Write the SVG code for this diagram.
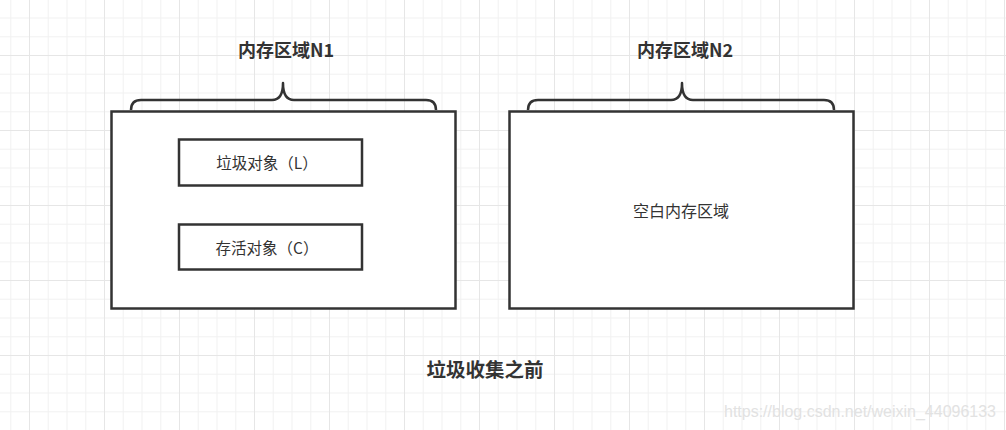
<svg xmlns="http://www.w3.org/2000/svg" width="1006" height="430" viewBox="0 0 1006 430">
  <defs>
    <pattern id="grid" patternUnits="userSpaceOnUse" x="29" y="55" width="75" height="75">
      <rect x="0" y="0" width="75" height="75" fill="#ffffff"/>
      <g fill="#f2f2f2">
        <rect x="18.75" y="0" width="1" height="75"/>
        <rect x="37.5" y="0" width="1" height="75"/>
        <rect x="56.25" y="0" width="1" height="75"/>
        <rect x="0" y="18.75" width="75" height="1"/>
        <rect x="0" y="37.5" width="75" height="1"/>
        <rect x="0" y="56.25" width="75" height="1"/>
      </g>
      <g fill="#e6e6e6">
        <rect x="0" y="0" width="1" height="75"/>
        <rect x="0" y="0" width="75" height="1"/>
      </g>
    </pattern>
    <style>
      .box { fill: #ffffff; stroke: #333333; stroke-width: 2.5; }
      .brace { fill: none; stroke: #333333; stroke-width: 2.5; stroke-linejoin: round; }
      .title { font-family: "Noto Sans CJK SC", "Liberation Sans", sans-serif; font-weight: bold; font-size: 18px; fill: #333333; text-anchor: middle; }
      .caption { font-family: "Noto Sans CJK SC", "Liberation Sans", sans-serif; font-weight: bold; font-size: 19.5px; fill: #333333; text-anchor: middle; }
      .label { font-family: "Noto Sans CJK SC", "Liberation Sans", sans-serif; font-size: 15.5px; fill: #333333; text-anchor: middle; }
      .wm { font-family: "Liberation Sans", Arial, sans-serif; font-size: 16px; fill: #e2e2e2; text-anchor: start; }
    </style>
  </defs>
  <rect x="0" y="0" width="1006" height="430" fill="url(#grid)"/>

  <g id="connectors">
    <path class="brace" d="M131,110 Q131,100 141,100 L272,100 Q283,100 283,83 Q283,100 294,100 L426,100 Q436,100 436,110"/>
    <path class="brace" d="M528,110 Q528,100 538,100 L671,100 Q682,100 682,83 Q682,100 693,100 L824,100 Q834,100 834,110"/>
  </g>

  <g id="title-n1">
    <text class="title" x="286" y="57">内存区域N1</text>
  </g>
  <g id="title-n2">
    <text class="title" x="685" y="57">内存区域N2</text>
  </g>

  <g id="region-n1">
    <rect class="box" x="111.5" y="111.5" width="344" height="197"/>
  </g>
  <g id="region-n2">
    <rect class="box" x="509.5" y="111.5" width="344" height="197"/>
    <text class="label" x="681" y="217" style="font-size:16px">空白内存区域</text>
  </g>

  <g id="garbage-object">
    <rect class="box" x="179" y="139.5" width="183" height="46"/>
    <text class="label" x="267" y="169">垃圾对象（L）</text>
  </g>
  <g id="live-object">
    <rect class="box" x="179" y="224.5" width="183" height="45"/>
    <text class="label" x="267" y="254">存活对象（C）</text>
  </g>

  <g id="caption">
    <text class="caption" x="485" y="377">垃圾收集之前</text>
  </g>

  <text class="wm" x="724" y="417" textLength="272" lengthAdjust="spacingAndGlyphs">https://blog.csdn.net/weixin_44096133</text>
</svg>
